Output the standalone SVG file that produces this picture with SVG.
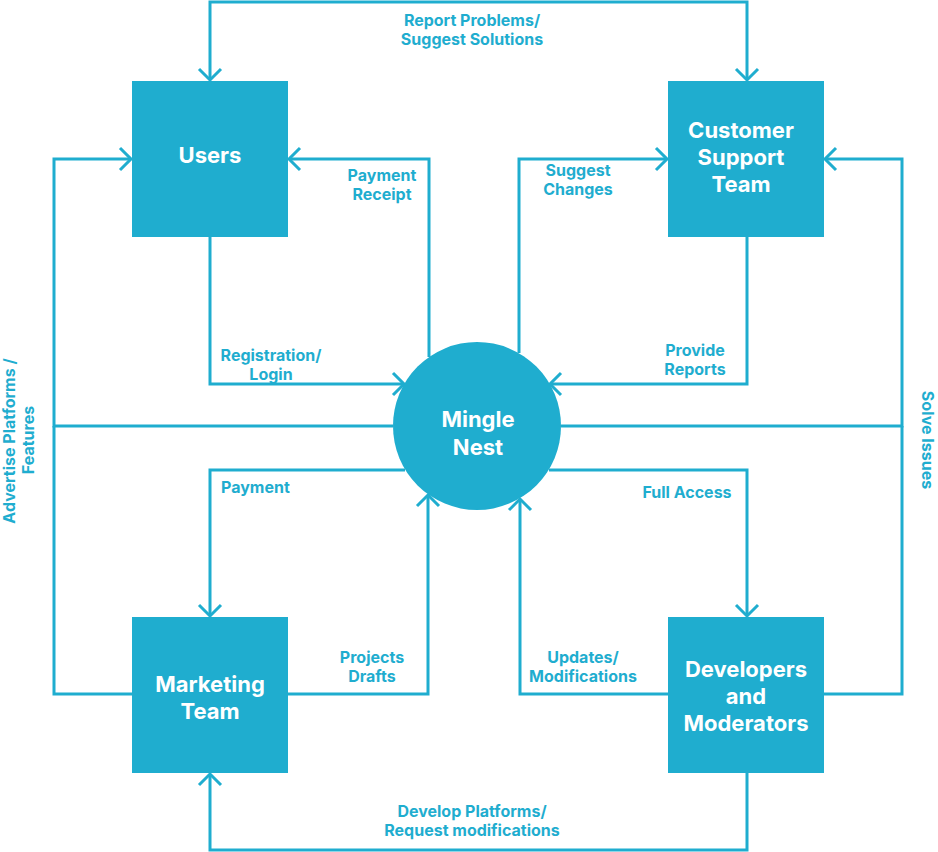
<svg xmlns="http://www.w3.org/2000/svg" width="938" height="852" viewBox="0 0 938 852">
<style>
.box{fill:#1FADCF}
.nt{fill:#fff;font-family:Inter,"Liberation Sans",sans-serif;font-weight:700;font-size:22px;text-anchor:middle}
.lb{fill:#1FADCF;font-family:Inter,"Liberation Sans",sans-serif;font-weight:700;font-size:16px;text-anchor:middle}
.c{fill:none;stroke:#1FADCF;stroke-width:3}
</style>
<defs>
<marker id="ah" markerUnits="userSpaceOnUse" markerWidth="30" markerHeight="30" refX="0" refY="0" viewBox="-15 -15 30 30" orient="auto-start-reverse" overflow="visible">
<path d="M-11,-11 L0,0 L-11,11" fill="none" stroke="#1FADCF" stroke-width="3"/>
</marker>
</defs>
<rect width="938" height="852" fill="#fff"/>
<g id="connectors">
<path class="c" d="M210,80 V2 H747 V80" marker-end="url(#ah)" marker-start="url(#ah)"/>
<path class="c" d="M429,357 V159 H289" marker-end="url(#ah)"/>
<path class="c" d="M210,237 V384 H404" marker-end="url(#ah)"/>
<path class="c" d="M519,353 V159 H667" marker-end="url(#ah)"/>
<path class="c" d="M747,237 V384 H550" marker-end="url(#ah)"/>
<path class="c" d="M393,426 H54 V159 H131" marker-end="url(#ah)"/>
<path class="c" d="M54,426 V694 H132"/>
<path class="c" d="M561,426 H902 V159 H825" marker-end="url(#ah)"/>
<path class="c" d="M902,426 V694 H824"/>
<path class="c" d="M405,470 H210 V616" marker-end="url(#ah)"/>
<path class="c" d="M549,470 H747 V616" marker-end="url(#ah)"/>
<path class="c" d="M288,694 H428 V495" marker-end="url(#ah)"/>
<path class="c" d="M668,694 H520 V499" marker-end="url(#ah)"/>
<path class="c" d="M747,773 V850 H210 V774" marker-end="url(#ah)"/>
</g>
<g id="users"><rect class="box" x="132" y="81" width="156" height="156"/><text class="nt" x="210" y="163">Users</text></g>
<g id="support"><rect class="box" x="668" y="81" width="156" height="156"/><text class="nt" x="741" y="138">Customer</text><text class="nt" x="741" y="165">Support</text><text class="nt" x="741" y="192">Team</text></g>
<g id="marketing"><rect class="box" x="132" y="617" width="156" height="156"/><text class="nt" x="210" y="692">Marketing</text><text class="nt" x="210" y="719">Team</text></g>
<g id="developers"><rect class="box" x="668" y="617" width="156" height="156"/><text class="nt" x="746" y="677">Developers</text><text class="nt" x="746" y="704">and</text><text class="nt" x="746" y="731">Moderators</text></g>
<g id="mingle"><circle class="box" cx="477" cy="426" r="84"/><text class="nt" x="478" y="427">Mingle</text><text class="nt" x="478" y="455">Nest</text></g>
<g id="labels">
<text class="lb" x="472" y="26">Report Problems/</text><text class="lb" x="472" y="45">Suggest Solutions</text>
<text class="lb" x="382" y="181">Payment</text><text class="lb" x="382" y="200">Receipt</text>
<text class="lb" x="578" y="176">Suggest</text><text class="lb" x="578" y="195">Changes</text>
<text class="lb" x="695" y="356">Provide</text><text class="lb" x="695" y="375">Reports</text>
<text class="lb" x="271" y="361">Registration/</text><text class="lb" x="271" y="380">Login</text>
<text class="lb" x="221" y="493" style="text-anchor:start">Payment</text>
<text class="lb" x="372" y="663">Projects</text><text class="lb" x="372" y="682">Drafts</text>
<text class="lb" x="687" y="498">Full Access</text>
<text class="lb" x="583" y="663">Updates/</text><text class="lb" x="583" y="682">Modifications</text>
<text class="lb" x="472" y="817">Develop Platforms/</text><text class="lb" x="472" y="836">Request modifications</text>
<text class="lb" transform="translate(922,440) rotate(90)" x="0" y="0">Solve Issues</text>
<text class="lb" transform="translate(15,441) rotate(-90)" x="0" y="0">Advertise Platforms /</text>
<text class="lb" transform="translate(34,440) rotate(-90)" x="0" y="0">Features</text>
</g>
</svg>
